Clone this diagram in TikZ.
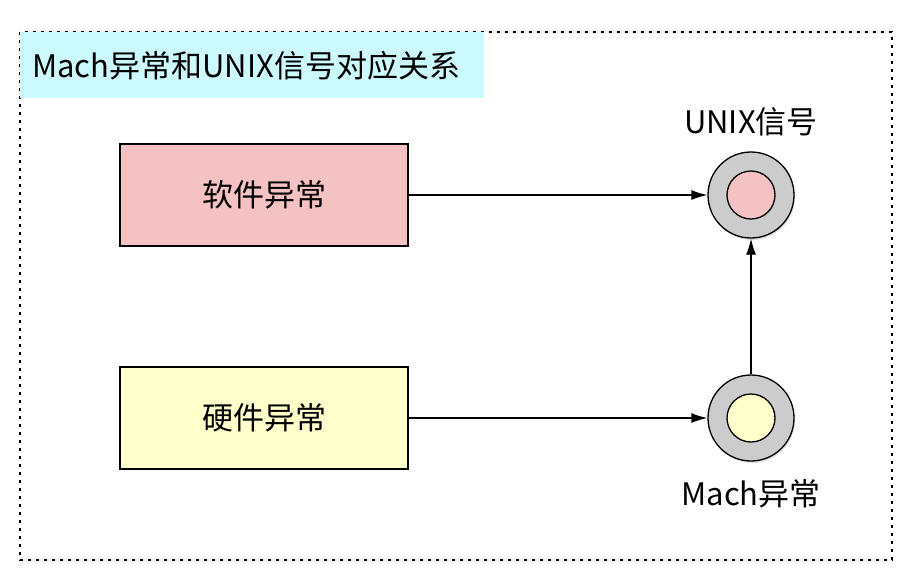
\documentclass[tikz,border=0pt]{standalone}
\usepackage{fontspec}
\setmainfont{Noto Sans CJK SC}
\usetikzlibrary{arrows.meta,shadows}

\definecolor{titlecyan}{HTML}{CCF9FC}
\definecolor{softpink}{HTML}{F4C2C2}
\definecolor{hardyellow}{HTML}{FFFFCC}
\definecolor{ringgray}{HTML}{CCCCCC}

\tikzset{
  every box/.style={draw, line width=1.3pt, minimum width=288pt, minimum height=102pt, font=\fontsize{31}{36}\selectfont},
  every ring/.style={circle, draw, line width=1.3pt, fill=ringgray, minimum size=86pt, inner sep=0pt,
    drop shadow={shadow xshift=1pt, shadow yshift=-2pt, opacity=0.25}},
  every core/.style={circle, draw, line width=1.3pt, minimum size=48pt, inner sep=0pt},
  link/.style={-{Latex[length=16pt,width=10pt]}, line width=1.3pt},
}

\begin{document}
\begin{tikzpicture}[x=1pt, y=-1pt]
  \useasboundingbox (0,0) rectangle (912,582);

  % frame and title
  \draw [line width=1.6pt, dash pattern=on 3pt off 5pt] (20,32) rectangle (892,560);
  \node [anchor=north west, fill=titlecyan, text width=440pt, inner xsep=12pt, inner ysep=0pt,
         minimum height=66pt, align=left, font=\fontsize{31}{36}\selectfont] (title) at (20,32)
         {Mach异常和UNIX信号对应关系};

  % exception boxes
  \foreach \n/\c/\t [count=\y from 0] in {soft/softpink/软件异常, hard/hardyellow/硬件异常}
    \node [every box/.try, fill=\c] (box-\n) at (264,195+\y*223) {\t};

  % signal rings
  \foreach \n/\c [count=\y from 0] in {signal/softpink, mach/hardyellow} {
    \node [every ring/.try] (ring-\n) at (751,195+\y*223) {};
    \node [every core/.try, fill=\c] (core-\n) at (ring-\n) {};
  }

  \node [font=\fontsize{31}{36}\selectfont] (label-signal) at (751,122) {UNIX信号};
  \node [font=\fontsize{31}{36}\selectfont] (label-mach) at (751,494) {Mach异常};

  % connectors
  \draw [link] (box-soft.east) -- (ring-signal.west);
  \draw [link] (box-hard.east) -- (ring-mach.west);
  \draw [link] (ring-mach.north) -- (ring-signal.south);
\end{tikzpicture}
\end{document}
